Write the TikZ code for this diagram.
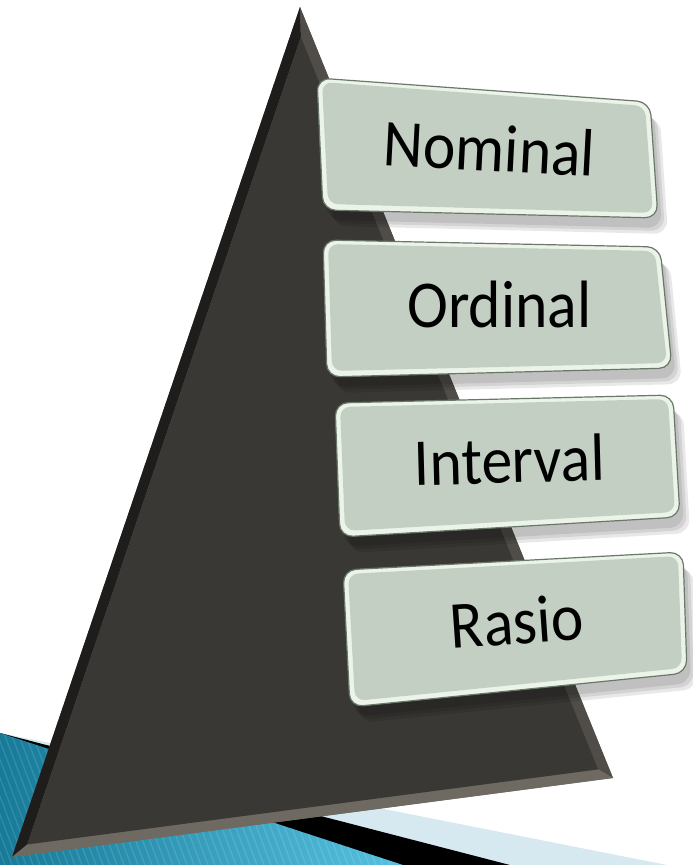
\documentclass[tikz,border=0pt]{standalone}
\usepackage{fontspec}
\setmainfont{Carlito}
\newfontfamily\boxfont[FakeStretch=0.92]{Carlito}
\usetikzlibrary{calc}
\definecolor{lightband}{RGB}{214,233,241}
\definecolor{bluedark}{RGB}{22,122,152}
\definecolor{bluelight}{RGB}{88,194,225}
\definecolor{trimain}{RGB}{58,56,52}
\definecolor{trileft}{RGB}{30,29,27}
\definecolor{triright}{RGB}{80,77,72}
\definecolor{tribottom}{RGB}{110,106,98}
\definecolor{boxfill}{RGB}{192,205,191}
\definecolor{boxrim}{RGB}{236,244,234}
\definecolor{boxline}{RGB}{105,120,105}
\tikzset{
  boxshadow/.style={fill=black, opacity=0.09, rounded corners=14},
  boxouter/.style={draw=boxline, line width=1.2pt, fill=boxrim, rounded corners=13},
  boxinner/.style={fill=boxfill, fill opacity=0.93, rounded corners=10},
  boxtext/.style={font=\boxfont\fontsize{67}{72}\selectfont, text=black, inner sep=0pt}
}
\newcommand\mybox[7]{%
  \foreach \dx/\dy in {4/10,7/13,10/16}{%
    \fill[boxshadow] ($#2+(\dx,\dy)$) -- ($#3+(\dx,\dy)$) -- ($#4+(\dx,\dy)$) -- ($#5+(\dx,\dy)$) -- cycle;
  }
  \path[boxouter] #2 -- #3 -- #4 -- #5 -- cycle;
  \path[boxinner] ($#2+(5,4)$) -- ($#3+(-5,4)$) -- ($#4+(-5,-5)$) -- ($#5+(5,-6)$) -- cycle;
  \node[boxtext, rotate=#7] (#1) at ($#2!0.5!#4+(2,0)$) {#6};
}
\begin{document}
\begin{tikzpicture}[x=1pt,y=-1pt]
\useasboundingbox (0,0) rectangle (693,865);
% background bands
\fill[lightband] (0,733) -- (667,865) -- (0,865) -- cycle;
\fill[black] (0,733) -- (510,865) -- (0,865) -- cycle;
\begin{scope}
  \clip (0,733) -- (403,865) -- (0,865) -- cycle;
  \shade[left color=bluedark, right color=bluelight] (0,720) rectangle (410,865);
  \foreach \i in {-120,-113,...,420}{
    \draw[white, opacity=0.12, line width=1.3pt] (\i,720) -- ++(55,145);
  }
\end{scope}
% triangle
\coordinate (A) at (300,7);
\coordinate (B) at (12,857);
\coordinate (C) at (613,778);
\coordinate (I) at (317.6,606.1);
\coordinate (Ai) at ($(I)!0.95!(A)$);
\coordinate (Bi) at ($(I)!0.95!(B)$);
\coordinate (Ci) at ($(I)!0.95!(C)$);
\fill[tribottom] (A) -- (B) -- (C) -- cycle;
\fill[trileft] (A) -- (B) -- (Bi) -- (Ai) -- cycle;
\fill[triright] (A) -- (Ai) -- (Ci) -- (C) -- cycle;
\fill[tribottom] (B) -- (C) -- (Ci) -- (Bi) -- cycle;
\fill[trimain] (Ai) -- (Bi) -- (Ci) -- cycle;
% boxes
\mybox{nominal}{(317,78)}{(650,102)}{(658,218)}{(323,210)}{Nominal}{-3}
\mybox{ordinal}{(323,240)}{(660,247)}{(672,368)}{(327,377)}{Ordinal}{0}
\mybox{interval}{(335,403)}{(673,395)}{(680,517)}{(340,537)}{Interval}{1.5}
\mybox{rasio}{(343,570)}{(683,552)}{(687,673)}{(350,707)}{Rasio}{4}
\end{tikzpicture}
\end{document}
